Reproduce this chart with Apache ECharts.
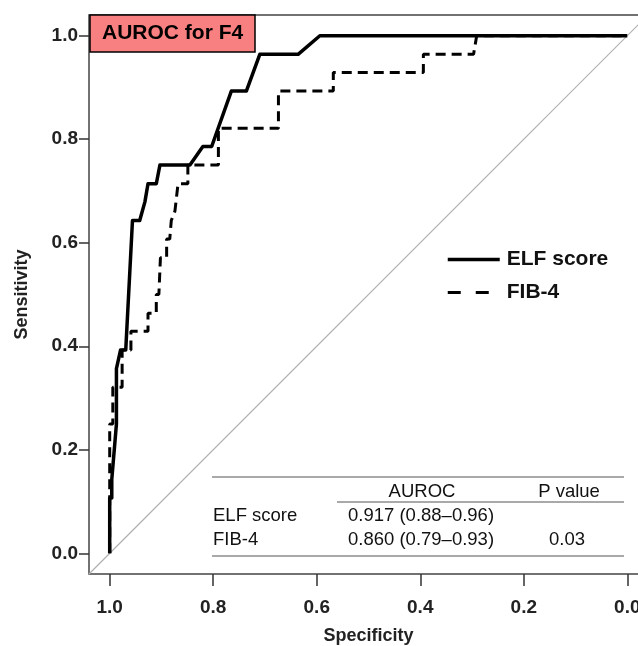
<!DOCTYPE html>
<html>
<head>
<meta charset="utf-8">
<script src="https://cdn.jsdelivr.net/npm/echarts@6/dist/echarts.min.js"></script>
<style>
  html, body { margin: 0; padding: 0; background: #fff; }
  #chart { width: 638px; height: 646px; }
</style>
</head>
<body>
<div id="chart"></div>
<script>
// ROC curves (specificity, sensitivity)
const elfSpecificity = [1.0, 1.0, 0.996, 0.996, 0.990, 0.987, 0.987, 0.979, 0.969, 0.956, 0.942, 0.932, 0.926, 0.910, 0.903, 0.845, 0.820, 0.803, 0.765, 0.736, 0.710, 0.636, 0.594, 0.0];
const elfSensitivity = [0, 0.107, 0.107, 0.143, 0.214, 0.25, 0.357, 0.393, 0.393, 0.643, 0.643, 0.679, 0.714, 0.714, 0.75, 0.75, 0.786, 0.786, 0.893, 0.893, 0.964, 0.964, 1.0, 1.0];

const fibSpecificity = [1.0, 1.0, 0.994, 0.994, 0.976, 0.976, 0.959, 0.959, 0.926, 0.926, 0.910, 0.910, 0.905, 0.902, 0.890, 0.890, 0.884, 0.881, 0.874, 0.868, 0.849, 0.849, 0.790, 0.790, 0.674, 0.674, 0.568, 0.568, 0.394, 0.394, 0.297, 0.291, 0.0];
const fibSensitivity = [0, 0.25, 0.25, 0.321, 0.321, 0.393, 0.393, 0.429, 0.429, 0.464, 0.464, 0.5, 0.5, 0.571, 0.571, 0.607, 0.607, 0.643, 0.661, 0.714, 0.714, 0.75, 0.75, 0.821, 0.821, 0.893, 0.893, 0.929, 0.929, 0.964, 0.964, 1.0, 1.0];

// chance diagonal, corner to corner of the plot region
const chanceSpecificity = [1.04, -0.04];
const chanceSensitivity = [-0.04, 1.04];

const tickValues = [0, 0.2, 0.4, 0.6, 0.8, 1.0];
const seriesNames = ["ELF score", "FIB-4"];

const tableHeader = ["AUROC", "P value"];
const tableRows = [
    ["ELF score", "0.917 (0.88\u20130.96)", ""],
    ["FIB-4", "0.860 (0.79\u20130.93)", "0.03"]
];

const zip = (xs, ys) => xs.map((x, i) => [x, ys[i]]);

const chart = echarts.init(document.getElementById("chart"), null, { renderer: "canvas" });

const font = "Liberation Sans, Arial, sans-serif";
const tableColor = "#111";
const ruleColor = "#8c8c8c";
const tableFont = "18.5px " + font;

const cell = (text, x, y, align) => ({
    type: "text", x: x, y: y,
    style: { text: text, font: tableFont, fill: tableColor, textAlign: align, textVerticalAlign: "middle" }
});
const rule = (x1, x2, y) => ({
    type: "line", shape: { x1: x1, y1: y, x2: x2, y2: y }, style: { stroke: ruleColor, lineWidth: 1.5 }
});

const option = {
    backgroundColor: "#ffffff",
    animation: false,
    textStyle: { fontFamily: font },
    title: {
        text: "AUROC for F4",
        left: 90,
        top: 15,
        padding: [8, 12, 8, 12],
        backgroundColor: "#F98080",
        borderColor: "#000",
        borderWidth: 1.5,
        textStyle: { fontSize: 21, fontWeight: "bold", color: "#000", lineHeight: 21, fontFamily: font }
    },
    grid: {
        left: 89,
        top: 15,
        width: 559,
        height: 559,
        outerBoundsMode: "none",
        containLabel: false,
        show: true,
        borderColor: "#444",
        borderWidth: 1.5,
        backgroundColor: "transparent"
    },
    legend: {
        orient: "vertical",
        left: 441,
        top: 244,
        itemWidth: 52,
        itemHeight: 14,
        itemGap: 12,
        selectedMode: false,
        itemStyle: { color: "transparent", borderColor: "transparent", borderWidth: 0 },
        textStyle: { fontSize: 21, fontWeight: "bold", color: "#111", fontFamily: font, padding: [0, 0, 0, 2] },
        data: [
            { name: seriesNames[0], lineStyle: { width: 3.5, type: "solid", color: "#000" } },
            { name: seriesNames[1], lineStyle: { width: 3, type: [13, 15], color: "#000" } }
        ]
    },
    xAxis: {
        type: "value",
        inverse: true,
        min: -0.04,
        max: 1.04,
        name: "Specificity",
        nameLocation: "middle",
        nameGap: 53,
        nameTextStyle: { fontSize: 18, fontWeight: "bold", color: "#222", fontFamily: font },
        axisLine: { show: false, onZero: false },
        splitLine: { show: false },
        axisTick: { show: true, length: 12, customValues: tickValues, lineStyle: { color: "#333", width: 1.5 } },
        axisLabel: {
            customValues: tickValues,
            margin: 24,
            fontSize: 19,
            fontWeight: "bold",
            color: "#222",
            fontFamily: font,
            formatter: v => v.toFixed(1)
        }
    },
    yAxis: {
        type: "value",
        min: -0.04,
        max: 1.04,
        name: "Sensitivity",
        nameLocation: "middle",
        nameGap: 58,
        nameTextStyle: { fontSize: 18, fontWeight: "bold", color: "#222", fontFamily: font },
        axisLine: { show: false, onZero: false },
        splitLine: { show: false },
        axisTick: { show: true, length: 10, customValues: tickValues, lineStyle: { color: "#333", width: 1.5 } },
        axisLabel: {
            customValues: tickValues,
            margin: 11,
            fontSize: 19,
            fontWeight: "bold",
            color: "#222",
            fontFamily: font,
            formatter: v => v.toFixed(1)
        }
    },
    series: [
        {
            name: "chance",
            type: "line",
            data: zip(chanceSpecificity, chanceSensitivity),
            symbol: "none",
            silent: true,
            lineStyle: { color: "#b0b0b0", width: 1.2 },
            z: 1
        },
        {
            name: seriesNames[0],
            type: "line",
            data: zip(elfSpecificity, elfSensitivity),
            symbol: "none",
            color: "#000",
            lineStyle: { color: "#000", width: 3.5, join: "round" },
            z: 3
        },
        {
            name: seriesNames[1],
            type: "line",
            data: zip(fibSpecificity, fibSensitivity),
            symbol: "none",
            color: "#000",
            lineStyle: { color: "#000", width: 3, type: [10, 6] },
            z: 2
        }
    ],
    graphic: [
        rule(212, 624, 477),
        rule(337, 624, 502),
        rule(212, 624, 556),
        cell(tableHeader[0], 422, 492, "center"),
        cell(tableHeader[1], 569, 492, "center"),
        cell(tableRows[0][0], 213, 516, "left"),
        cell(tableRows[0][1], 348, 516, "left"),
        cell(tableRows[0][2], 567, 516, "center"),
        cell(tableRows[1][0], 213, 540, "left"),
        cell(tableRows[1][1], 348, 540, "left"),
        cell(tableRows[1][2], 567, 540, "center")
    ]
};

chart.setOption(option);
</script>
</body>
</html>
